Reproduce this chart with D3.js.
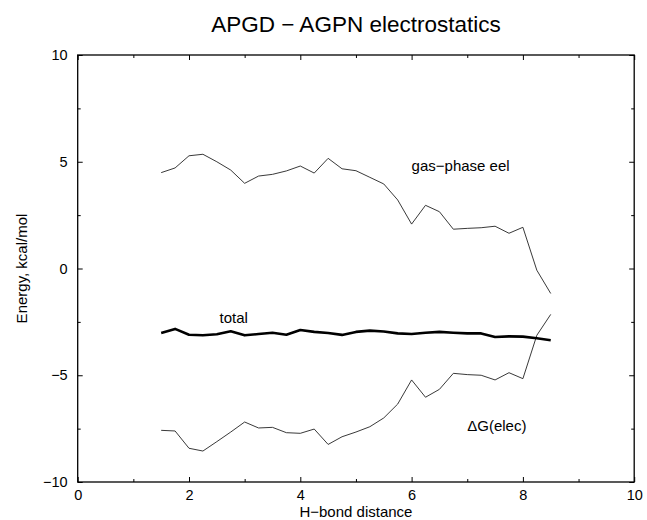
<!DOCTYPE html>
<html><head><meta charset="utf-8">
<script src="https://cdn.jsdelivr.net/npm/d3@7"></script>
<style>body{margin:0;background:#fff}svg{display:block}text{font-family:"Liberation Sans",Arial,sans-serif;fill:#000}</style>
</head><body>
<script>
const distances = [1.5,1.75,2,2.25,2.5,2.75,3,3.25,3.5,3.75,4,4.25,4.5,4.75,5,5.25,5.5,5.75,6,6.25,6.5,6.75,7,7.25,7.5,7.75,8,8.25,8.5];
const gasPhaseEel = [4.49,4.71,5.28,5.35,5.0,4.61,3.99,4.33,4.41,4.57,4.80,4.47,5.16,4.67,4.58,4.27,3.96,3.21,2.08,2.96,2.66,1.84,1.88,1.91,1.98,1.65,1.93,-0.08,-1.17];
const totalEnergy = [-3.02,-2.83,-3.10,-3.13,-3.08,-2.94,-3.13,-3.07,-3.01,-3.10,-2.88,-2.97,-3.02,-3.11,-2.97,-2.91,-2.95,-3.04,-3.07,-3.01,-2.97,-3.01,-3.04,-3.04,-3.21,-3.18,-3.19,-3.27,-3.36];
const deltaGElec = [-7.58,-7.61,-8.42,-8.55,-8.11,-7.66,-7.19,-7.47,-7.44,-7.69,-7.72,-7.52,-8.24,-7.88,-7.66,-7.41,-7.0,-6.35,-5.22,-6.03,-5.66,-4.91,-4.97,-5.00,-5.22,-4.88,-5.16,-3.13,-2.15];
const xMajor = [0,2,4,6,8,10];
const xMinor = [1,3,5,7,9];
const yMajor = [-10,-5,0,5,10];
const yMinor = [-7.5,-2.5,2.5,7.5];
const title = "APGD \u2212 AGPN electrostatics";
const xLabel = "H\u2212bond distance";
const yLabel = "Energy, kcal/mol";
const seriesLabels = [
  {text:"gas\u2212phase eel", x:6.0, y:4.55},
  {text:"total", x:2.55, y:-2.55},
  {text:"\u0394G(elec)", x:7.0, y:-7.59}
];

const W = 647, H = 520;
const L = 77.7, R = 634.2, T = 55, B = 482;
const svg = d3.select("body").append("svg").attr("width", W).attr("height", H);
const x = d3.scaleLinear().domain([0,10]).range([L,R]);
const y = d3.scaleLinear().domain([-10,10]).range([B,T]);
const fmt = d => d < 0 ? "\u2212" + Math.abs(d) : String(d);

function axisGroup(axis, tr){
  const g = svg.append("g").attr("transform", tr).call(axis);
  g.select(".domain").remove();
  g.selectAll(".tick line").attr("stroke","#000").attr("stroke-width",1);
  g.selectAll(".tick text").style("font-size","14.5px").style("font-family","'Liberation Sans',Arial,sans-serif");
  return g;
}
// bottom
axisGroup(d3.axisBottom(x).tickValues(xMajor).tickSize(-5).tickPadding(7.5).tickFormat(fmt), `translate(0,${B})`);
axisGroup(d3.axisBottom(x).tickValues(xMinor).tickSize(-3).tickFormat(""), `translate(0,${B})`);
// top
axisGroup(d3.axisTop(x).tickValues(xMajor).tickSize(-5).tickFormat(""), `translate(0,${T})`);
axisGroup(d3.axisTop(x).tickValues(xMinor).tickSize(-3).tickFormat(""), `translate(0,${T})`);
// left
axisGroup(d3.axisLeft(y).tickValues(yMajor).tickSize(-5).tickPadding(10).tickFormat(fmt), `translate(${L},0)`);
axisGroup(d3.axisLeft(y).tickValues(yMinor).tickSize(-3).tickFormat(""), `translate(${L},0)`);
// right
axisGroup(d3.axisRight(y).tickValues(yMajor).tickSize(-5).tickFormat(""), `translate(${R},0)`);
axisGroup(d3.axisRight(y).tickValues(yMinor).tickSize(-3).tickFormat(""), `translate(${R},0)`);

svg.append("rect").attr("x",L).attr("y",T).attr("width",R-L).attr("height",B-T)
  .attr("fill","none").attr("stroke","#000").attr("stroke-width",1.3);

const line = vals => d3.line().x((d,i)=>x(distances[i])).y(d=>y(d))(vals);
svg.append("path").attr("d", line(gasPhaseEel)).attr("fill","none").attr("stroke","#222").attr("stroke-width",0.9);
svg.append("path").attr("d", line(deltaGElec)).attr("fill","none").attr("stroke","#222").attr("stroke-width",0.9);
svg.append("path").attr("d", line(totalEnergy)).attr("fill","none").attr("stroke","#000").attr("stroke-width",2.6).attr("stroke-linejoin","round");

seriesLabels.forEach(s => svg.append("text").attr("x", x(s.x)).attr("y", y(s.y)).style("font-size","15px").text(s.text));

svg.append("text").attr("x",(L+R)/2).attr("y",31.5).attr("text-anchor","middle").style("font-size","22.5px").text(title);
svg.append("text").attr("x",(L+R)/2).attr("y",517).attr("text-anchor","middle").style("font-size","15px").text(xLabel);
svg.append("text").attr("transform",`translate(27,${(T+B)/2}) rotate(-90)`).attr("text-anchor","middle").style("font-size","15px").text(yLabel);
</script>
</body></html>
